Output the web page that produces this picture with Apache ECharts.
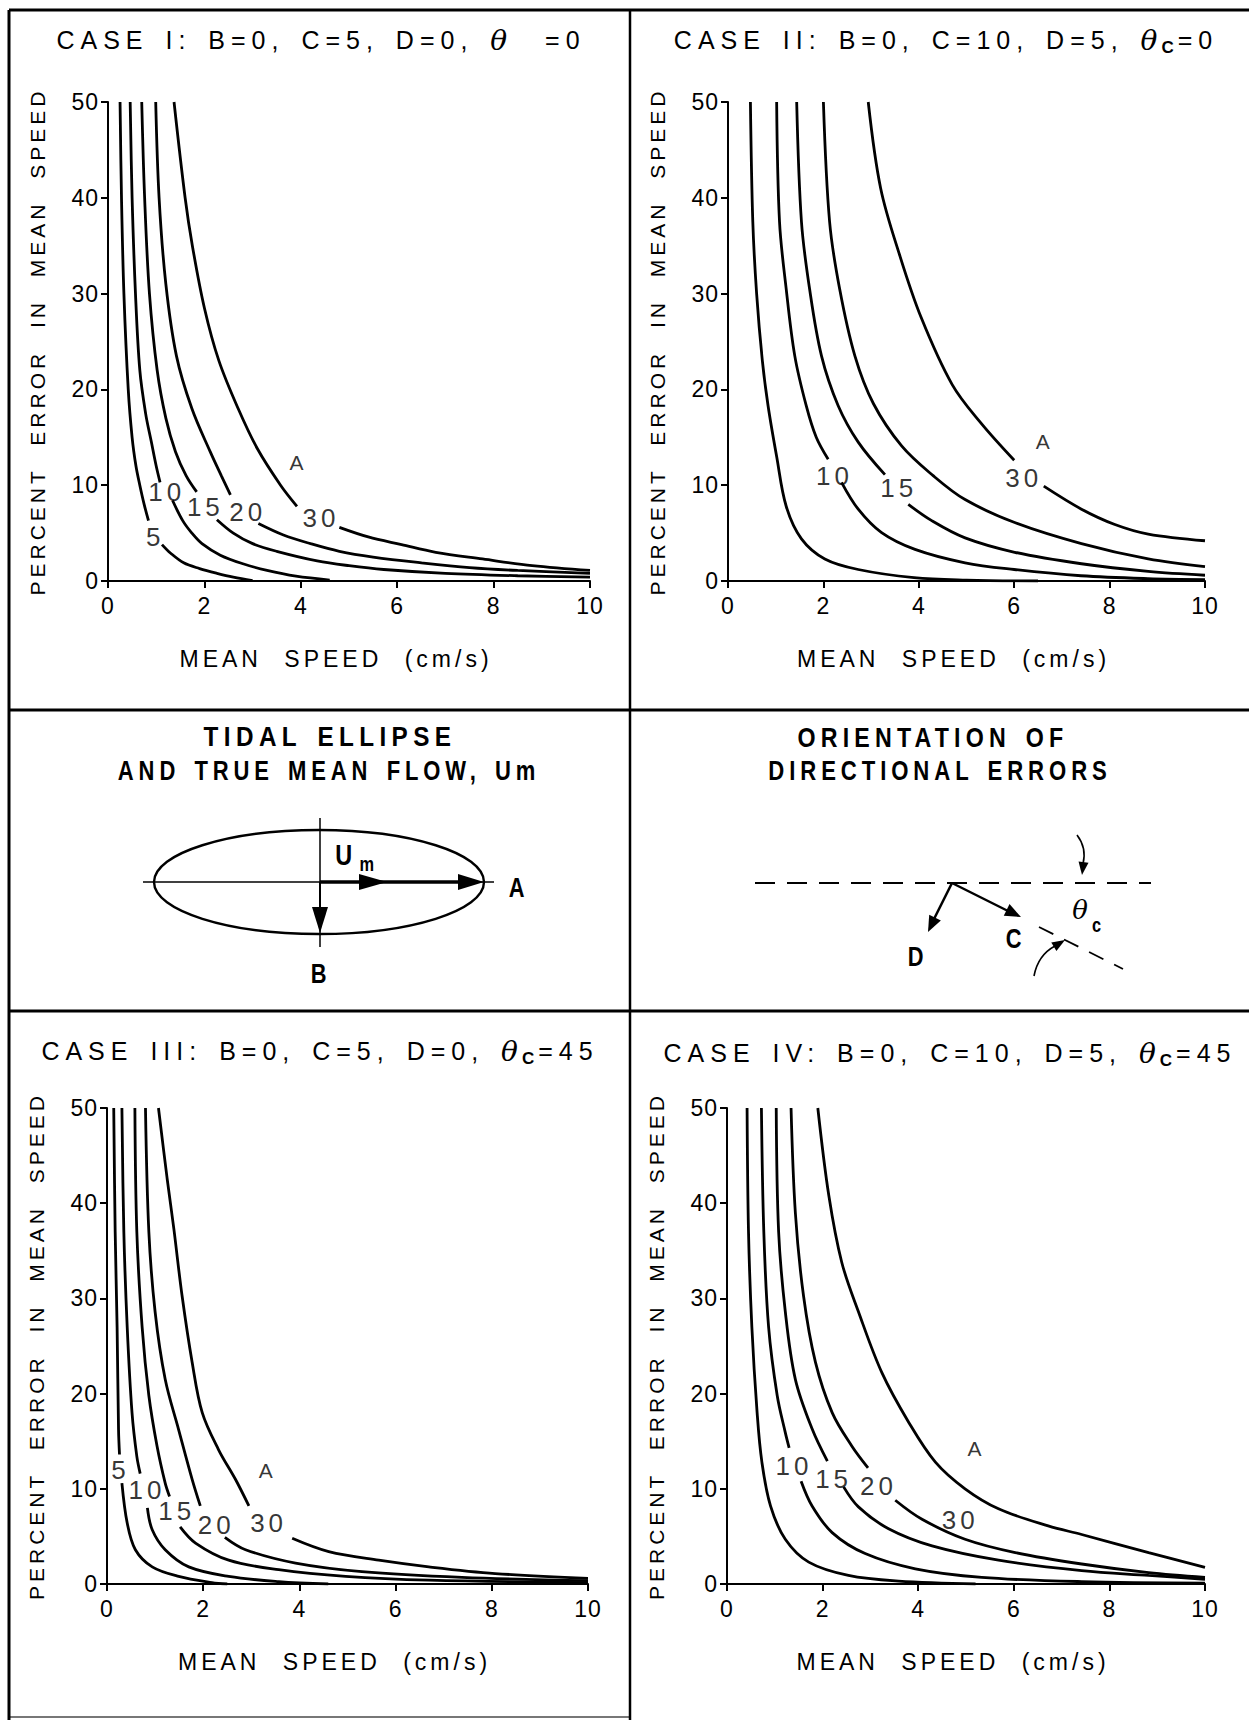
<!DOCTYPE html>
<html>
<head>
  <meta charset="utf-8" />
  <script src="https://cdn.jsdelivr.net/npm/echarts@6/dist/echarts.min.js"></script>
  <style>
    html, body { margin: 0; padding: 0; background: #fff; }
    /* the scanned figure uses widely tracked lettering */
    #main text { letter-spacing: 4px; word-spacing: 12px; }
    #main text[style*="25px"] { letter-spacing: 6px; word-spacing: 4px; }
    #main text[style*="Helvetica"] { letter-spacing: 1px; }
    #main text[style*="Arimo"] { letter-spacing: 6px; word-spacing: 4px; }
  </style>
</head>
<body>
  <div id="main" style="width: 1249px; height: 1720px;"></div>
  <script type="text/javascript">
    // ---- data: [mean speed cm/s, percent error], null = gap for a curve label
    var case1_A5 = [[0.25,50],[0.28,40],[0.33,30],[0.42,20],[0.50,15],[0.58,12],[0.66,10],[0.75,8],[0.84,6.3], null,
      [1.12,3.8],[1.3,2.9],[1.57,1.9],[1.9,1.3],[2.26,0.8],[2.6,0.4],[3.0,0.05]]
    var case1_A10 = [[0.46,50],[0.5,40],[0.57,30],[0.66,22],[0.78,17.5],[0.9,14.5],[1.0,12],[1.08,10.3], null,
      [1.34,8.4],[1.55,6.3],[1.74,5.0],[1.95,3.9],[2.33,2.7],[2.8,1.8],[3.3,1.1],[3.9,0.5],[4.6,0.1]]
    var case1_A15 = [[0.70,50],[0.76,40],[0.86,30],[1.02,22],[1.2,17],[1.4,13.5],[1.62,11],[1.84,9.3], null,
      [2.26,6.4],[2.6,5.0],[3.0,3.9],[3.5,3.1],[4.34,2.1],[5.0,1.6],[5.72,1.2],[7.0,0.8],[8.5,0.55],[10,0.4]]
    var case1_A20 = [[0.99,50],[1.06,40],[1.2,31],[1.42,23.5],[1.74,18],[2.12,13.5],[2.35,11],[2.54,9.0], null,
      [3.12,6.0],[3.64,4.8],[4.2,3.9],[4.8,3.1],[5.5,2.5],[6.5,1.9],[7.5,1.4],[8.5,1.1],[10,0.8]]
    var case1_A30 = [[1.37,50],[1.6,40],[1.75,35],[2.0,28.5],[2.3,23],[2.7,18],[3.1,13.8],[3.58,10],[3.92,7.8], null,
      [4.8,5.6],[5.4,4.6],[6.09,3.8],[6.8,3.0],[7.77,2.3],[8.8,1.6],[10,1.1]]
    var case1_labels = [['5',0.98,4.6],['10',1.22,9.3],['15',2.02,7.7],['20',2.9,7.2],['30',4.42,6.6],['A',3.95,12.4]]

    var case2_A5 = [[0.47,50],[0.52,37.5],[0.6,30],[0.72,23],[0.84,18.3],[1.02,13],[1.22,7.8],[1.54,4.4],[2.03,2.3],
      [2.73,1.2],[3.9,0.35],[5.0,0.1],[6.5,0]]
    var case2_A10 = [[1.02,50],[1.08,37.5],[1.22,30.5],[1.4,23.5],[1.64,18.3],[1.85,15],[2.1,12.7], null,
      [2.38,10.3],[2.73,7.5],[3.22,5.05],[3.92,3.3],[4.97,1.9],[6.0,1.2],[7.4,0.55],[8.8,0.25],[10,0.15]]
    var case2_A15 = [[1.44,50],[1.54,37.5],[1.71,30.5],[1.96,23.5],[2.31,18.3],[2.73,14.5],[3.29,11.1], null,
      [3.78,8.0],[4.27,6.3],[4.97,4.5],[6.01,3.0],[7.41,1.8],[8.81,1.0],[10,0.6]]
    var case2_A20 = [[2.0,50],[2.13,37.5],[2.34,30.5],[2.66,23.5],[3.05,18.5],[3.64,14.1],[4.3,11.0],[4.97,8.5],
      [6.01,6.1],[7.41,3.9],[8.81,2.3],[10,1.5]]
    var case2_A30 = [[2.94,50],[3.2,41],[3.6,34],[4.05,27.5],[4.7,20.5],[5.3,16.5],[6.0,12.6], null,
      [6.62,9.9],[7.41,7.5],[8.11,5.9],[8.81,4.9],[10,4.2]]
    var case2_labels = [['10',2.23,11.0],['15',3.58,9.7],['30',6.2,10.8],['A',6.64,14.6]]

    var case3_A5 = [[0.14,50],[0.17,37],[0.21,27],[0.24,16.2],[0.26,13.6], null,
      [0.31,10.6],[0.42,6.4],[0.59,3.6],[0.94,1.8],[1.49,0.8],[2.18,0.15],[2.5,0]]
    var case3_A10 = [[0.31,50],[0.35,37],[0.42,27],[0.52,18],[0.62,13.4],[0.69,11.6], null,
      [0.84,8.0],[0.94,5.7],[1.21,3.6],[1.7,1.8],[2.53,0.8],[3.57,0.25],[4.6,0]]
    var case3_A15 = [[0.58,50],[0.62,37],[0.73,27],[0.87,19.8],[1.04,14.5],[1.21,10.6],[1.3,9.2], null,
      [1.52,6.0],[1.84,4.3],[2.53,2.5],[3.57,1.5],[4.96,0.8],[6.69,0.4],[10,0.15]]
    var case3_A20 = [[0.8,50],[0.87,37],[1.0,28.6],[1.21,21.5],[1.49,16.2],[1.77,11],[1.94,8.2], null,
      [2.45,4.9],[2.88,3.6],[3.92,2.2],[5.3,1.3],[7.38,0.7],[10,0.35]]
    var case3_A30 = [[1.07,50],[1.25,42.6],[1.39,37.3],[1.56,30.3],[1.77,23.3],[1.98,18],[2.32,14.1],[2.67,11],[2.95,8.2], null,
      [3.85,4.8],[4.61,3.4],[5.65,2.5],[6.69,1.8],[8.07,1.1],[10,0.6]]
    var case3_labels = [['5',0.28,12.0],['10',0.83,9.85],['15',1.45,7.7],['20',2.27,6.2],['30',3.36,6.4],['A',3.34,11.9]]

    var case4_A5 = [[0.42,50],[0.45,37],[0.52,27],[0.63,18],[0.73,12.8],[0.91,8.2],[1.22,4.7],[1.71,2.3],[2.54,0.9],
      [3.59,0.3],[5.2,0]]
    var case4_A10 = [[0.72,50],[0.77,37],[0.87,27],[1.05,19.8],[1.22,15.9],[1.3,14.3], null,
      [1.55,10.8],[1.78,8.2],[2.2,5.4],[2.89,3.2],[3.94,1.6],[5.33,0.7],[7.42,0.25],[10,0.1]]
    var case4_A15 = [[1.03,50],[1.08,37],[1.22,28.6],[1.43,21.5],[1.78,16.3],[2.1,12.9], null,
      [2.44,10.2],[2.75,8.1],[3.38,5.8],[4.29,4.0],[5.68,2.5],[7.42,1.4],[8.82,0.9],[10,0.5]]
    var case4_A20 = [[1.34,50],[1.43,39],[1.6,30.3],[1.85,23.3],[2.2,18],[2.61,14.5],[2.95,12.2], null,
      [3.52,8.8],[4.08,6.8],[4.98,4.7],[6.03,3.3],[7.42,2.1],[8.82,1.2],[10,0.7]]
    var case4_A30 = [[1.9,50],[2.13,40.8],[2.4,33.8],[2.75,28.6],[3.24,22.2],[3.8,17.0],[4.36,12.8],[4.98,10.0],
      [5.68,7.9],[6.72,6.1],[7.42,5.2],[8.82,3.3],[10,1.75]]
    var case4_labels = [['10',1.4,12.4],['15',2.23,11.0],['20',3.17,10.25],['30',4.88,6.75],['A',5.22,14.25]]

    var xName = 'MEAN SPEED (cm/s)'
    var yName = 'PERCENT ERROR IN MEAN SPEED'

    var BASE = "'Liberation Sans', Arial, sans-serif"
    var TICK = "'Liberation Sans', Helvetica, sans-serif"
    var NARROW = "'Liberation Sans', Arimo, sans-serif"   // drawn squeezed with scaleX
    var SERIF = "'DejaVu Serif', serif"

    // measure text the same way the svg css spaces it
    var mctx = document.createElement('canvas').getContext('2d')
    if (echarts.setPlatformAPI) {
      echarts.setPlatformAPI({
        measureText: function (text, font) {
          font = font || '12px sans-serif'
          var ls = 4, ws = 12
          if (/Arimo/.test(font)) { ls = 6; ws = 4 }
          else if (/Helvetica/.test(font)) { ls = 1 }
          else if (/(^|\D)25px/.test(font)) { ls = 6; ws = 4 }
          mctx.font = font
          mctx.letterSpacing = ls + 'px'
          mctx.wordSpacing = ws + 'px'
          return mctx.measureText(text)
        }
      })
    }

    var myChart = echarts.init(document.getElementById('main'), null, { renderer: 'svg' })

    var grids = [
      { left: 108, top: 102, width: 482, height: 479 },
      { left: 728, top: 102, width: 477, height: 479 },
      { left: 107, top: 1108, width: 481, height: 476 },
      { left: 727, top: 1108, width: 478, height: 476 }
    ]

    var axisCommon = {
      axisLine: { lineStyle: { color: '#000', width: 2 } },
      axisTick: { length: 7, lineStyle: { color: '#000', width: 2 } },
      splitLine: { show: false },
      nameLocation: 'middle'
    }

    var xAxes = grids.map(function (g, i) {
      return Object.assign({}, axisCommon, {
        gridIndex: i, type: 'value', min: 0, max: 10, interval: 2,
        name: xName, nameGap: 64,
        nameTextStyle: { fontSize: 23, color: '#000', fontFamily: BASE, padding: [0, 26, 0, 0] },
        axisLabel: { fontSize: 23, color: '#000', fontFamily: TICK, margin: 13 }
      })
    })
    var yAxes = grids.map(function (g, i) {
      return Object.assign({}, axisCommon, {
        gridIndex: i, type: 'value', min: 0, max: 50, interval: 10,
        name: yName, nameGap: 58, nameRotate: 90,
        nameTextStyle: { fontSize: 21, color: '#000', fontFamily: BASE },
        axisLabel: { fontSize: 23, color: '#000', fontFamily: TICK, margin: 9 }
      })
    })

    function curveSeries(points, gi) {
      var segs = [], seg = []
      points.forEach(function (p) {
        if (p === null) { segs.push(seg); seg = [] } else { seg.push(p) }
      })
      segs.push(seg)
      return segs.map(function (s) {
        return {
          type: 'line', xAxisIndex: gi, yAxisIndex: gi, data: s,
          showSymbol: false, symbol: 'none', smooth: 0.35,
          silent: true, lineStyle: { color: '#000', width: 2.8 }, z: 3
        }
      })
    }

    function labelSeries(labels, gi) {
      return {
        type: 'scatter', xAxisIndex: gi, yAxisIndex: gi, symbolSize: 1, silent: true,
        itemStyle: { color: 'rgba(0,0,0,0)' },
        data: labels.map(function (l) {
          var item = { name: l[0], value: [l[1], l[2]] }
          if (l[0] === 'A') item.label = { fontSize: 21 }
          return item
        }),
        label: { show: true, position: 'inside', formatter: '{b}', color: '#000', fontSize: 26, fontFamily: BASE },
        z: 5
      }
    }

    var panels = [
      [case1_A5, case1_A10, case1_A15, case1_A20, case1_A30],
      [case2_A5, case2_A10, case2_A15, case2_A20, case2_A30],
      [case3_A5, case3_A10, case3_A15, case3_A20, case3_A30],
      [case4_A5, case4_A10, case4_A15, case4_A20, case4_A30]
    ]
    var panelLabels = [case1_labels, case2_labels, case3_labels, case4_labels]

    var series = []
    panels.forEach(function (curves, gi) {
      curves.forEach(function (c) { series = series.concat(curveSeries(c, gi)) })
      series.push(labelSeries(panelLabels[gi], gi))
    })

    // ---- frame, titles and the two schematic sketches
    var richTitle = {
      t: { fontSize: 25, fontFamily: BASE, color: '#000' },
      th: { fontSize: 28, fontFamily: SERIF, fontStyle: 'italic', color: '#000' },
      sub: { fontSize: 17, fontFamily: BASE, fontWeight: 'bold', color: '#000', padding: [14, 0, 0, 0] }
    }

    function text(x, y, str, font, size, weight, extra, sx) {
      var st = {
        text: str, fontSize: size, fontFamily: font, fontWeight: weight || 'normal', fill: '#000',
        align: 'center', verticalAlign: 'middle', textAlign: 'center', textVerticalAlign: 'middle'
      }
      if (extra) Object.assign(st, extra)
      return { type: 'text', x: x, y: y, scaleX: sx || 1, style: st, z: 10 }
    }
    function narrow(x, y, str, size, sx) {
      return text(x, y, str, NARROW, size, 'bold', null, sx || 0.78)
    }
    function line(x1, y1, x2, y2, w, dash) {
      return {
        type: 'line', shape: { x1: x1, y1: y1, x2: x2, y2: y2 },
        style: { stroke: '#000', lineWidth: w, lineDash: dash || null }, z: 10
      }
    }
    function head(x1, y1, x2, y2, len, half) {
      var dx = x2 - x1, dy = y2 - y1, d = Math.sqrt(dx * dx + dy * dy)
      var ux = dx / d, uy = dy / d, bx = x2 - ux * len, by = y2 - uy * len
      return {
        type: 'polygon', z: 10,
        shape: { points: [[x2, y2], [bx - uy * half, by + ux * half], [bx + uy * half, by - ux * half]] },
        style: { fill: '#000' }
      }
    }

    var graphics = [
      line(9, 10, 1249, 10, 3),
      line(9, 10, 9, 1720, 3),
      line(630, 10, 630, 1720, 2.5),
      line(9, 710, 1249, 710, 3),
      line(9, 1011, 1249, 1011, 3),
      { type: 'line', shape: { x1: 9, y1: 1717, x2: 630, y2: 1717 }, style: { stroke: '#777', lineWidth: 2 } },

      text(321, 40, '{t|CASE I: B=0, C=5, D=0, }{th|θ}{t|  =0}', BASE, 25, 'normal', { rich: richTitle }),
      text(946, 40, '{t|CASE II: B=0, C=10, D=5, }{th|θ}{sub|C}{t|=0}', BASE, 25, 'normal', { rich: richTitle }),
      text(320, 1051, '{t|CASE III: B=0, C=5, D=0, }{th|θ}{sub|C}{t|=45}', BASE, 25, 'normal', { rich: richTitle }),
      text(950, 1053, '{t|CASE IV: B=0, C=10, D=5, }{th|θ}{sub|C}{t|=45}', BASE, 25, 'normal', { rich: richTitle }),

      // tidal ellipse sketch
      narrow(330, 737, 'TIDAL ELLIPSE', 27, 0.9),
      narrow(329, 771, 'AND TRUE MEAN FLOW, Um', 27, 0.815),
      { type: 'ellipse', shape: { cx: 319, cy: 882, rx: 165, ry: 52 }, style: { fill: 'none', stroke: '#000', lineWidth: 2.4 }, z: 10 },
      line(143, 882, 494, 882, 1.5),
      line(320, 818, 320, 947, 1.5),
      line(320, 882, 470, 882, 3.5),
      head(320, 882, 387, 882, 28, 8),
      head(320, 882, 484, 882, 26, 8),
      line(320, 882, 320, 912, 2),
      head(320, 882, 320, 933, 26, 8),
      narrow(346, 855, 'U', 30),
      narrow(369, 864, 'm', 21),
      narrow(519, 887, 'A', 28),
      narrow(321, 973, 'B', 28),

      // directional error sketch
      narrow(933, 737, 'ORIENTATION OF', 27, 0.86),
      narrow(940, 771, 'DIRECTIONAL ERRORS', 27, 0.82),
      line(755, 883, 1151, 883, 1.8, [20, 12]),
      line(952, 883, 1008, 911, 2.5),
      head(952, 883, 1021, 917, 16, 6.5),
      line(952, 883, 933, 921, 2.5),
      head(952, 883, 928, 932, 16, 6.5),
      line(1039, 927, 1123, 969, 1.8, [16, 12]),
      { type: 'bezierCurve', shape: { x1: 1077, y1: 835, cpx1: 1087, cpy1: 848, x2: 1083, y2: 864 }, style: { stroke: '#000', lineWidth: 1.6, fill: 'none' }, z: 10 },
      head(1084, 858, 1082, 875, 13, 5),
      { type: 'bezierCurve', shape: { x1: 1034, y1: 976, cpx1: 1038, cpy1: 955, x2: 1055, y2: 946 }, style: { stroke: '#000', lineWidth: 1.6, fill: 'none' }, z: 10 },
      head(1050, 949, 1065, 940, 13, 5),
      text(1082, 910, 'θ', SERIF, 26, 'normal', { fontStyle: 'italic' }),
      narrow(1099, 925, 'c', 21),
      narrow(1016, 938, 'C', 28),
      narrow(918, 956, 'D', 28)
    ]

    var option = {
      animation: false,
      backgroundColor: '#fff',
      textStyle: { fontFamily: BASE, color: '#000' },
      grid: grids,
      xAxis: xAxes,
      yAxis: yAxes,
      series: series,
      graphic: { elements: graphics }
    }

    myChart.setOption(option)
  </script>
</body>
</html>
